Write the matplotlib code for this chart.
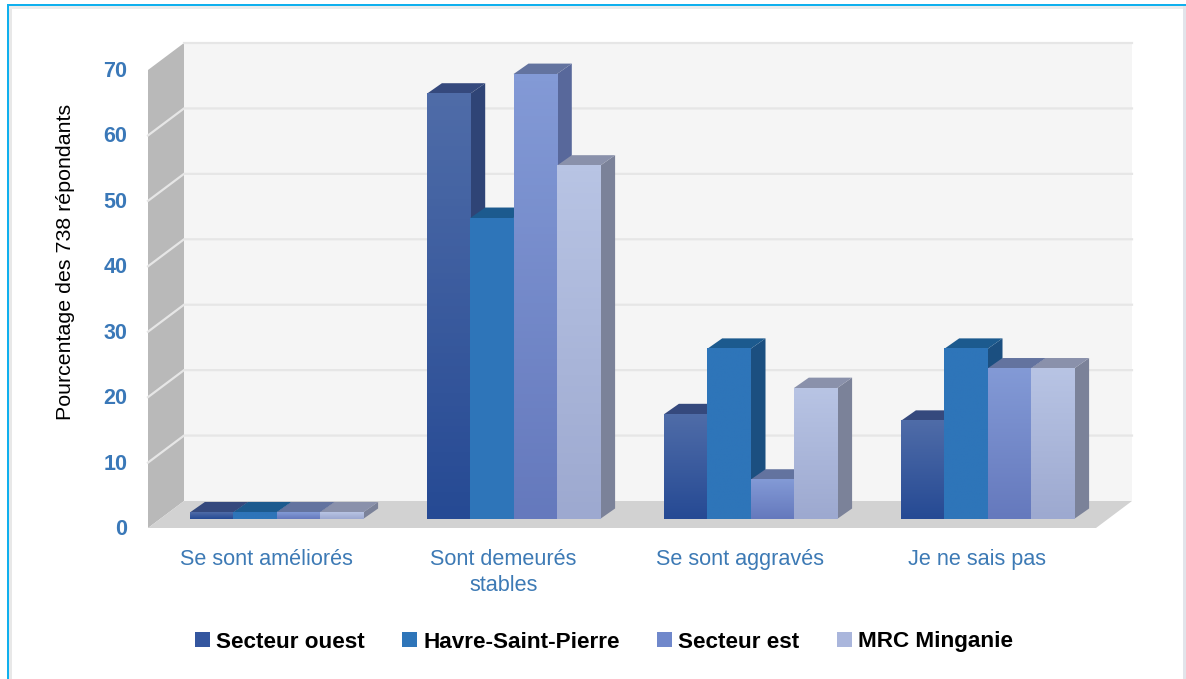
import matplotlib
matplotlib.use("Agg")
import matplotlib.pyplot as plt
import numpy as np
from matplotlib.colors import LinearSegmentedColormap
from matplotlib.patches import Patch, Rectangle
from matplotlib.transforms import ScaledTranslation

categories = ["Se sont améliorés", "Sont demeurés\nstables", "Se sont aggravés", "Je ne sais pas"]
series_names = ["Secteur ouest", "Havre-Saint-Pierre", "Secteur est", "MRC Minganie"]
secteur_ouest = [1, 65, 16, 15]
havre_saint_pierre = [1, 46, 26, 26]
secteur_est = [1, 68, 6, 23]
mrc_minganie = [1, 54, 20, 23]
y_ticks = [0, 10, 20, 30, 40, 50, 60, 70]

# front top, front bottom, side top, side bottom, top face
colors = [
    ("#4f6ca8", "#264a94", "#2f4476", "#2a4580", "#35497d"),
    ("#2e75b9", "#2e75b9", "#1b4f80", "#1b4f80", "#1c5a8e"),
    ("#839ad6", "#6579bd", "#58689b", "#4d5c94", "#63739f"),
    ("#b8c4e4", "#9da9d0", "#7b8299", "#656c8f", "#8a91ab"),
]
legend_colors = ["#34569f", "#2e75b9", "#7088cb", "#aab6dc"]

W, H = 1186, 679
plt.rcParams["font.family"] = ["Liberation Sans", "DejaVu Sans"]

fig = plt.figure(figsize=(W / 100, H / 100), dpi=100)
ax = fig.add_axes([148 / W, 1 - 528 / H, (1096 - 148) / W, (528 - 70) / H])
ax.set_xlim(-0.5, 3.5)
ax.set_ylim(0, 70)
ax.patch.set_visible(False)
for s in ax.spines.values():
    s.set_visible(False)

px_x = 4 / (1096 - 148)
px_y = 70 / (528 - 70)

# the 3D box: back wall, left wall, floor
wall_dx = 36 * px_x
wall_dy = 27 * px_y
x0, x1 = -0.5, 3.5
ax.fill([x0 + wall_dx, x1 + wall_dx, x1 + wall_dx, x0 + wall_dx], [wall_dy, wall_dy, 70 + wall_dy, 70 + wall_dy],
        color="#f5f5f5", lw=0, clip_on=False, zorder=1)
ax.fill([x0, x0 + wall_dx, x0 + wall_dx, x0], [0, wall_dy, 70 + wall_dy, 70],
        color="#b9b9b9", lw=0, clip_on=False, zorder=1)
ax.fill([x0, x0 + wall_dx, x1 + wall_dx, x1], [0, wall_dy, wall_dy, 0],
        color="#d2d2d2", lw=0, clip_on=False, zorder=2)
for t in y_ticks[1:-1]:
    ax.plot([x0, x0 + wall_dx, x1 + wall_dx], [t, t + wall_dy, t + wall_dy], color="#e6e6e6", lw=1.6,
            clip_on=False, zorder=1.5, solid_joinstyle="miter")
ax.plot([x0 + wall_dx, x1 + wall_dx], [70 + wall_dy, 70 + wall_dy], color="#e6e6e6", lw=1.6,
        clip_on=False, zorder=1.5)

# bars
bar_w = 43.3 * px_x
bar_x0 = 10 * px_x
bar_y0 = 9 * px_y
bar_dx = 15 * px_x
bar_dy = 10.5 * px_y
all_series = [secteur_ouest, havre_saint_pierre, secteur_est, mrc_minganie]
z = 3
for i in range(len(categories)):
    for j, values in enumerate(all_series):
        v = values[i]
        left = i + bar_x0 + (j - 2) * bar_w
        right = left + bar_w
        top = bar_y0 + v
        c = colors[j]
        ax.fill([right, right + bar_dx, right + bar_dx, right],
                [bar_y0, bar_y0 + bar_dy, top + bar_dy, top], color=c[2], lw=0, clip_on=False, zorder=z)
        ax.fill([left, left + bar_dx, right + bar_dx, right],
                [top, top + bar_dy, top + bar_dy, top], color=c[4], lw=0, clip_on=False, zorder=z)
        ax.bar(left, v, bar_w, bottom=bar_y0, align="edge", color=c[1], lw=0, clip_on=False, zorder=z + 0.5)
        cmap = LinearSegmentedColormap.from_list("g", [c[0], c[1]])
        ax.imshow(np.linspace(0, 1, 64).reshape(-1, 1), cmap=cmap, aspect="auto", extent=(left, right, bar_y0, top),
                  origin="upper", zorder=z + 0.6, clip_on=False)
        z += 1

ax.set_xlim(-0.5, 3.5)
ax.set_ylim(0, 70)
ax.set_xticks(range(4), categories)
ax.set_yticks(y_ticks)
ax.tick_params(axis="both", length=0)
ax.tick_params(axis="x", pad=15, labelsize=15.6, labelcolor="#3d7ab5")
ax.tick_params(axis="y", pad=15, labelcolor="#3a78b8")
up = ScaledTranslation(0, 1 / 100, fig.dpi_scale_trans)
for lab in ax.get_yticklabels():
    lab.set_fontweight("bold")
    lab.set_fontsize(15.5)
    lab.set_transform(lab.get_transform() + up)
for lab in ax.get_xticklabels():
    lab.set_linespacing(1.35)
ax.set_ylabel("Pourcentage des 738 répondants", fontsize=15.4, color="black", y=0.582, labelpad=20)

handles = [Patch(facecolor=c, edgecolor="none") for c in legend_colors]
fig.legend(handles, series_names, loc="center", bbox_to_anchor=(604 / W, 1 - 642 / H), ncol=4, frameon=False,
           prop={"size": 16.2, "weight": "bold"}, handlelength=0.67, handleheight=0.62,
           handletextpad=0.27, columnspacing=1.65)

# outer frame: cyan on left and top, thin grey band inside, pale band on the right
fig.add_artist(Rectangle((9 / W, 0), 3 / W, 1 - 6 / H, transform=fig.transFigure, color="#e8e8e8", lw=0))
fig.add_artist(Rectangle((9 / W, 1 - 9 / H), (W - 9) / W, 3 / H, transform=fig.transFigure, color="#ececec", lw=0))
fig.add_artist(Rectangle((1183 / W, 0), 3 / W, 1 - 6 / H, transform=fig.transFigure, color="#e2e4ea", lw=0))
fig.add_artist(Rectangle((7 / W, 0), 2 / W, 1 - 4 / H, transform=fig.transFigure, color="#10b0ee", lw=0))
fig.add_artist(Rectangle((7 / W, 1 - 6 / H), (W - 7) / W, 2 / H, transform=fig.transFigure, color="#10b0ee", lw=0))

fig.savefig("out.png", dpi=100)
